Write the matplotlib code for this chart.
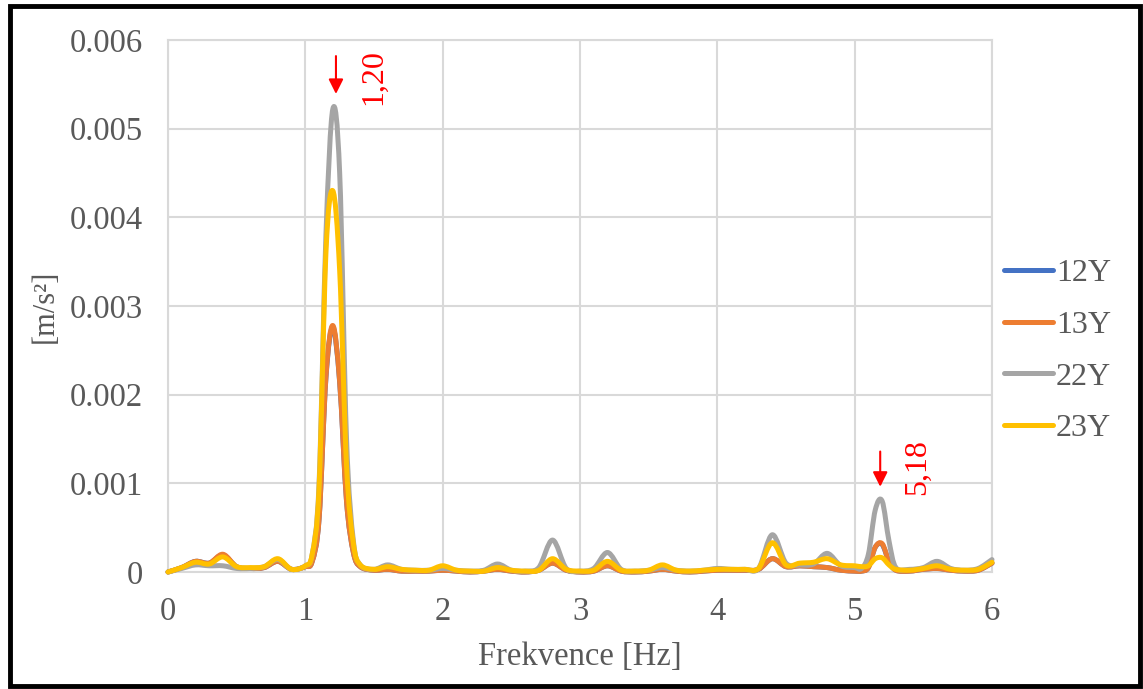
import numpy as np
import matplotlib.pyplot as plt
from matplotlib.path import Path
from matplotlib.patches import PathPatch, Rectangle
from matplotlib.lines import Line2D

plt.rcParams['font.family'] = ['Liberation Serif', 'DejaVu Serif']

# frequency axis [Hz]
freq = [0.0, 0.1, 0.2, 0.3, 0.4, 0.5, 0.6, 0.7, 0.8, 0.9,
        1.0, 1.05, 1.1, 1.15, 1.2, 1.25, 1.3, 1.35, 1.4, 1.5,
        1.6, 1.7, 1.8, 1.9, 2.0, 2.1, 2.2, 2.3, 2.4, 2.5,
        2.6, 2.7, 2.8, 2.9, 3.0, 3.1, 3.2, 3.3, 3.4, 3.5,
        3.6, 3.7, 3.8, 3.9, 4.0, 4.1, 4.2, 4.3, 4.4, 4.5,
        4.6, 4.7, 4.8, 4.9, 5.0, 5.05, 5.1, 5.15, 5.2, 5.25,
        5.3, 5.4, 5.5, 5.6, 5.7, 5.8, 5.9, 6.0]

# amplitudes in 1e-3 m/s2
y12 = [0.0, 0.05, 0.12, 0.1, 0.19, 0.06, 0.04, 0.05, 0.12, 0.03,
       0.06, 0.12, 0.6, 2.19, 2.76, 2.14, 0.8, 0.22, 0.06, 0.02,
       0.03, 0.01, 0.01, 0.01, 0.02, 0.01, 0.0, 0.01, 0.03, 0.01,
       0.0, 0.02, 0.1, 0.02, 0.0, 0.01, 0.07, 0.01, 0.0, 0.01,
       0.03, 0.01, 0.0, 0.01, 0.02, 0.02, 0.02, 0.03, 0.15, 0.06,
       0.07, 0.06, 0.05, 0.02, 0.01, 0.01, 0.05, 0.28, 0.31, 0.12,
       0.02, 0.01, 0.03, 0.04, 0.02, 0.01, 0.02, 0.1]

y13 = [0.0, 0.05, 0.12, 0.1, 0.2, 0.06, 0.04, 0.05, 0.12, 0.03,
       0.06, 0.12, 0.6, 2.2, 2.78, 2.15, 0.8, 0.22, 0.06, 0.02,
       0.03, 0.01, 0.01, 0.01, 0.02, 0.01, 0.0, 0.01, 0.03, 0.01,
       0.0, 0.02, 0.1, 0.02, 0.0, 0.01, 0.07, 0.01, 0.0, 0.01,
       0.03, 0.01, 0.0, 0.01, 0.02, 0.02, 0.02, 0.03, 0.15, 0.06,
       0.07, 0.06, 0.05, 0.02, 0.01, 0.01, 0.05, 0.28, 0.32, 0.12,
       0.02, 0.01, 0.03, 0.04, 0.02, 0.01, 0.02, 0.1]

y22 = [0.0, 0.04, 0.08, 0.07, 0.07, 0.04, 0.04, 0.06, 0.14, 0.03,
       0.07, 0.2, 1.0, 3.8, 5.22, 4.5, 1.5, 0.35, 0.08, 0.03,
       0.08, 0.03, 0.02, 0.02, 0.04, 0.02, 0.01, 0.02, 0.09, 0.02,
       0.01, 0.05, 0.36, 0.04, 0.01, 0.04, 0.22, 0.03, 0.01, 0.02,
       0.05, 0.02, 0.01, 0.02, 0.04, 0.03, 0.03, 0.04, 0.42, 0.1,
       0.08, 0.09, 0.21, 0.07, 0.05, 0.04, 0.2, 0.7, 0.8, 0.35,
       0.05, 0.03, 0.05, 0.12, 0.04, 0.02, 0.04, 0.14]

y23 = [0.0, 0.05, 0.11, 0.09, 0.17, 0.06, 0.05, 0.06, 0.15, 0.03,
       0.07, 0.2, 0.95, 3.6, 4.3, 3.4, 1.2, 0.32, 0.08, 0.03,
       0.06, 0.03, 0.02, 0.02, 0.07, 0.02, 0.01, 0.01, 0.05, 0.02,
       0.01, 0.02, 0.15, 0.03, 0.01, 0.02, 0.12, 0.02, 0.01, 0.02,
       0.08, 0.02, 0.01, 0.02, 0.03, 0.03, 0.03, 0.04, 0.33, 0.08,
       0.1, 0.11, 0.15, 0.08, 0.07, 0.06, 0.07, 0.15, 0.16, 0.08,
       0.03, 0.02, 0.04, 0.07, 0.03, 0.02, 0.03, 0.11]

series = ['12Y', '13Y', '22Y', '23Y']
colors = ['#4472C4', '#ED7D31', '#A5A5A5', '#FFC000']
values = [y12, y13, y22, y23]

y_ticks = [0, 0.001, 0.002, 0.003, 0.004, 0.005, 0.006]
y_labels = ['0', '0.001', '0.002', '0.003', '0.004', '0.005', '0.006']
x_ticks = [0, 1, 2, 3, 4, 5, 6]


def smooth_path(x, y):
    # Excel-like smoothed line: cubic Bezier segments through the points
    pts = np.column_stack([x, y])
    n = len(pts)
    verts = [pts[0]]
    codes = [Path.MOVETO]
    for i in range(n - 1):
        p0 = pts[max(i - 1, 0)]
        p1 = pts[i]
        p2 = pts[i + 1]
        p3 = pts[min(i + 2, n - 1)]
        verts += [p1 + (p2 - p0) / 6, p2 - (p3 - p1) / 6, p2]
        codes += [Path.CURVE4] * 3
    return Path(verts, codes)


fig = plt.figure(figsize=(11.43, 6.89), dpi=100)
ax = fig.add_axes([168 / 1143, 1 - 572 / 689, 824 / 1143, 532 / 689])

text_col = '#595959'
grid_col = '#D9D9D9'

handles = []
for name, col, v in zip(series, colors, values):
    p = PathPatch(smooth_path(freq, np.array(v) * 1e-3), fill=False,
                  edgecolor=col, lw=3.6, capstyle='round', joinstyle='round',
                  transform=ax.transData, clip_on=False, zorder=3)
    ax.add_patch(p)
    handles.append(Line2D([], [], color=col, lw=3.6, solid_capstyle='round'))

ax.set_xlim(0, 6)
ax.set_ylim(0, 0.006)
ax.set_xticks(x_ticks)
ax.set_yticks(y_ticks)
ax.set_yticklabels(y_labels)
ax.grid(True, color=grid_col, lw=1.5)
ax.set_axisbelow(True)
for s in ax.spines.values():
    s.set_color(grid_col)
    s.set_linewidth(1.5)
ax.tick_params(length=0, labelsize=23.5, colors=text_col)
ax.tick_params(axis='x', pad=18)
ax.tick_params(axis='y', pad=18)

ax.set_xlabel('Frekvence [Hz]', fontsize=23.5, color=text_col, labelpad=10)
ax.set_ylabel('[m/s²]', fontsize=22, color=text_col, labelpad=7)

# peak markers
ax.annotate('', xy=(1.223, 0.00536), xytext=(1.223, 0.00585),
            arrowprops=dict(arrowstyle='-|>', color='red', lw=1.5,
                            mutation_scale=22), annotation_clip=False)
ax.text(1.5, 0.00558, '1,20', rotation=90, color='red', fontsize=23,
        ha='center', va='center')
ax.annotate('', xy=(5.186, 0.00093), xytext=(5.186, 0.00139),
            arrowprops=dict(arrowstyle='-|>', color='red', lw=1.5,
                            mutation_scale=22), annotation_clip=False)
ax.text(5.46, 0.00118, '5,18', rotation=90, color='red', fontsize=23,
        ha='center', va='center')

fig.legend(handles, series, loc='center left',
           bbox_to_anchor=(988 / 1143, 1 - 351 / 689), frameon=False,
           fontsize=23, labelcolor=text_col, handlelength=1.55,
           handletextpad=0.08, labelspacing=0.7, borderpad=0)

fig.patches.append(Rectangle((10 / 1143, 3 / 689), 1130 / 1143, 680 / 689,
                             transform=fig.transFigure, fill=False,
                             ec='black', lw=3.5))

fig.savefig('out.png', dpi=100)
